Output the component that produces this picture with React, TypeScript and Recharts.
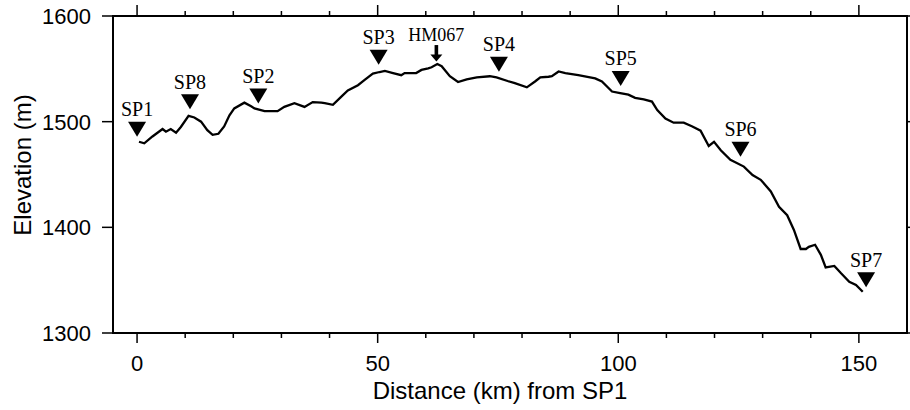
import { ComposedChart, Line, ReferenceArea, Scatter, XAxis, YAxis } from "recharts";

// elevation profile along the line
const distanceKm = [
  0.4, 1.5, 3.2, 5.3, 6.0, 7.0, 8.1, 9.1, 10.7, 11.9, 13.3, 14.6, 15.7, 16.9, 18.1, 19.2, 20.2, 22.3, 23.7, 24.4,
  26.5, 29.2, 30.6, 32.7, 34.8, 36.5, 38.3, 39.0, 40.7, 42.4, 43.8, 45.9, 47.3, 49.0, 50.4, 51.5, 53.2, 54.9, 55.6,
  58.0, 59.1, 60.5, 61.2, 62.4, 63.3, 65.0, 66.7, 68.5, 70.6, 73.3, 74.7, 77.0, 78.5, 81.0, 82.7, 83.8, 85.5, 86.2,
  87.6, 89.0, 91.7, 95.2, 96.6, 98.7, 100.4, 102.1, 103.5, 105.3, 107.0, 108.1, 109.8, 111.5, 113.6, 115.4, 117.1,
  118.8, 119.9, 121.3, 123.3, 126.1, 127.9, 129.6, 131.7, 133.4, 135.1, 136.5, 137.9, 139.0, 139.6, 140.9, 142.1,
  143.1, 144.9, 146.3, 148.0, 149.4, 150.8,
];
const elevationM = [
  1481, 1479.5, 1486, 1493, 1490.5, 1493, 1489.5, 1495, 1505.5, 1504, 1500, 1492, 1487.5, 1488.5, 1495.5, 1506, 1512.5,
  1518, 1514.5, 1512.5, 1510, 1510, 1514, 1517.5, 1514, 1518.5, 1518, 1517.5, 1516, 1523.5, 1529.5, 1534.5, 1539.5,
  1545.5, 1547, 1548, 1546, 1544, 1546, 1546, 1549, 1550.5, 1551.5, 1554.5, 1552.5, 1543, 1537.5, 1540, 1542, 1543,
  1542, 1538.5, 1536.5, 1532.5, 1538, 1542, 1542.5, 1543, 1547.5, 1546, 1544, 1541, 1538, 1528.5, 1527, 1525.5,
  1522.5, 1521, 1519, 1511, 1503, 1499, 1499, 1495.5, 1491.5, 1477, 1481, 1473, 1464, 1457.5, 1449.5, 1445, 1434,
  1419.5, 1411.5, 1397.5, 1379.5, 1379.5, 1381.5, 1383.5, 1374, 1362, 1363.5, 1356.5, 1348.5, 1345.5, 1339,
];

// shot points (triangles) and station (arrow)
const shotNames = ["SP1", "SP8", "SP2", "SP3", "SP4", "SP5", "SP6", "SP7"];
const shotKm = [0, 11.0, 25.2, 50.2, 75.2, 100.5, 125.4, 151.5];
const shotElev = [1500, 1526, 1531.5, 1568, 1561.5, 1548, 1481, 1357.5];
const stationNames = ["HM067"];
const stationKm = [62.2];
const stationElev = [1572.5];

const xDomain = [-5, 160];
const xMajor = [0, 50, 100, 150];
const xTicks = [0, 10, 20, 30, 40, 50, 60, 70, 80, 90, 100, 110, 120, 130, 140, 150];
const yDomain = [1300, 1600];
const yTicks = [1300, 1400, 1500, 1600];

const profile = distanceKm.map((km, i) => ({ km, elev: elevationM[i] }));
const shots = shotNames.map((name, i) => ({ name, km: shotKm[i], elev: shotElev[i] }));
const stations = stationNames.map((name, i) => ({ name, km: stationKm[i], elev: stationElev[i] }));

const sans = "'Liberation Sans', Arial, Helvetica, sans-serif";
const serif = "'Liberation Serif', 'Times New Roman', serif";

// plot box edges (layout)
const PLOT_TOP = 16;
const PLOT_RIGHT = 907;

// ticks are drawn by hand: major/minor on one axis, mirrored on the opposite side of the frame
function BottomTick(props: any) {
  const { x, y, payload } = props;
  const major = xMajor.includes(payload.value);
  return (
    <g>
      <line x1={x} x2={x} y1={y} y2={y + (major ? 10 : 5)} stroke="#000" strokeWidth={1.5} />
      <line x1={x} x2={x} y1={PLOT_TOP} y2={PLOT_TOP - (major ? 11 : 5)} stroke="#000" strokeWidth={1.5} />
      {major && (
        <text x={x} y={y + 38} textAnchor="middle" fontFamily={sans} fontSize={22} fill="#000">
          {payload.value}
        </text>
      )}
    </g>
  );
}

function LeftTick(props: any) {
  const { x, y, payload } = props;
  return (
    <g>
      <line x1={x} x2={x - 11} y1={y} y2={y} stroke="#000" strokeWidth={1.5} />
      <line x1={PLOT_RIGHT} x2={PLOT_RIGHT + 5} y1={y} y2={y} stroke="#000" strokeWidth={1.5} />
      <text x={x - 22} y={y + 8} textAnchor="end" fontFamily={sans} fontSize={22} fill="#000">
        {payload.value}
      </text>
    </g>
  );
}

function ShotMarker(props: any) {
  const { cx, cy, payload } = props;
  if (cx == null || cy == null) return null;
  return (
    <g>
      <polygon points={`${cx - 9},${cy} ${cx + 9},${cy} ${cx},${cy + 15}`} fill="#000" />
      <text x={cx} y={cy - 5.5} textAnchor="middle" fontFamily={serif} fontSize={20} fill="#000">
        {payload.name}
      </text>
    </g>
  );
}

function StationMarker(props: any) {
  const { cx, cy, payload } = props;
  if (cx == null || cy == null) return null;
  return (
    <g>
      <rect x={cx - 1.8} y={cy} width={3.6} height={10} fill="#000" />
      <polygon points={`${cx - 6},${cy + 9.5} ${cx + 6},${cy + 9.5} ${cx},${cy + 16.5}`} fill="#000" />
      <text x={cx} y={cy - 4} textAnchor="middle" fontFamily={serif} fontSize={18} fill="#000">
        {payload.name}
      </text>
    </g>
  );
}

export default function App() {
  return (
    <div style={{ position: "absolute", left: 0, top: 0, background: "#fff" }}>
      <ComposedChart width={910} height={410} margin={{ top: PLOT_TOP, right: 910 - PLOT_RIGHT, bottom: 0, left: 0 }}>
        <XAxis
          xAxisId="x"
          dataKey="km"
          type="number"
          domain={xDomain}
          allowDataOverflow
          ticks={xTicks}
          interval={0}
          tickSize={0}
          tickMargin={0}
          height={77}
          axisLine={false}
          tickLine={false}
          tick={BottomTick}
          label={{
            content: () => (
              <text x={500} y={399} textAnchor="middle" fontFamily={sans} fontSize={24} fill="#000">
                Distance (km) from SP1
              </text>
            ),
          }}
        />
        <YAxis
          yAxisId="y"
          dataKey="elev"
          type="number"
          domain={yDomain}
          allowDataOverflow
          ticks={yTicks}
          interval={0}
          tickSize={0}
          tickMargin={0}
          width={113}
          axisLine={false}
          tickLine={false}
          tick={LeftTick}
          label={{
            content: () => (
              <text
                transform="translate(31,165) rotate(-90)"
                textAnchor="middle"
                fontFamily={sans}
                fontSize={24}
                fill="#000"
              >
                Elevation (m)
              </text>
            ),
          }}
        />
        <ReferenceArea
          xAxisId="x"
          yAxisId="y"
          x1={xDomain[0]}
          x2={xDomain[1]}
          y1={yDomain[0]}
          y2={yDomain[1]}
          fill="none"
          fillOpacity={0}
          stroke="#000"
          strokeWidth={2}
          ifOverflow="visible"
        />
        <Line
          xAxisId="x"
          yAxisId="y"
          data={profile}
          dataKey="elev"
          type="linear"
          stroke="#000"
          strokeWidth={2.3}
          dot={false}
          isAnimationActive={false}
        />
        <Scatter xAxisId="x" yAxisId="y" data={shots} shape={ShotMarker} isAnimationActive={false} />
        <Scatter xAxisId="x" yAxisId="y" data={stations} shape={StationMarker} isAnimationActive={false} />
      </ComposedChart>
    </div>
  );
}
